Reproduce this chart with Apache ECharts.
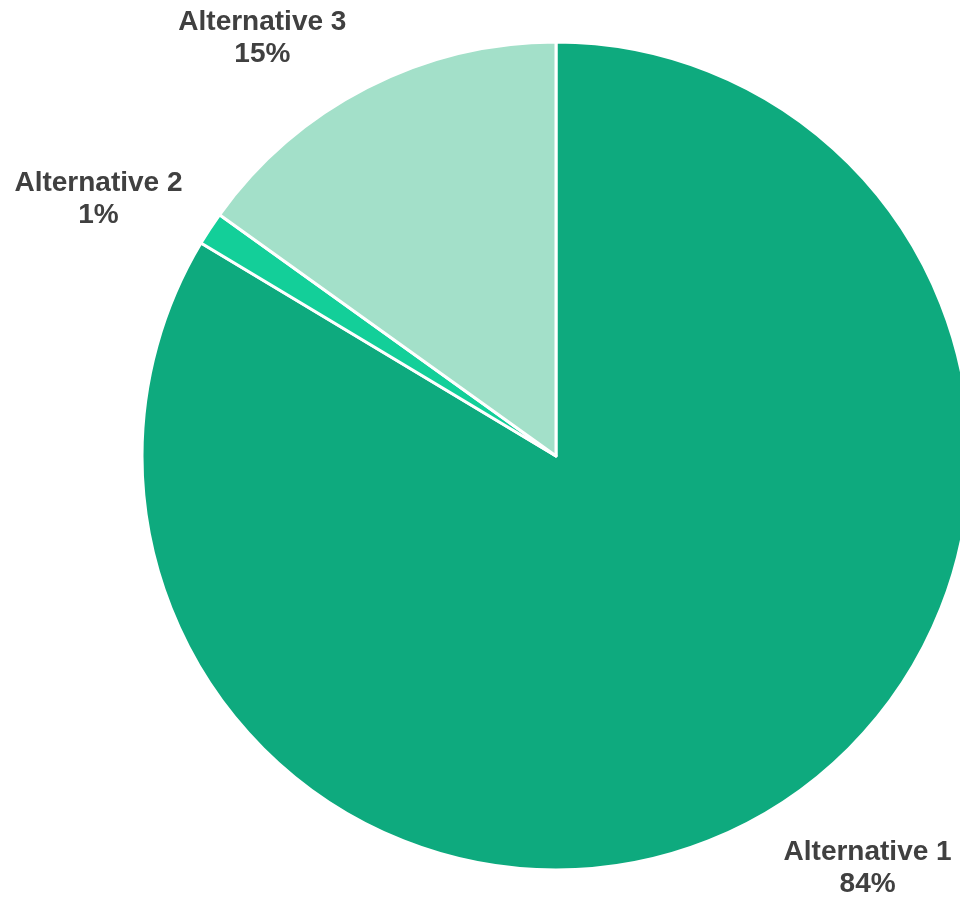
<!DOCTYPE html>
<html>
<head>
<meta charset="utf-8">
<script src="https://cdn.jsdelivr.net/npm/echarts@6/dist/echarts.min.js"></script>
<style>
  html, body { margin: 0; padding: 0; background: #ffffff; }
  #chart { width: 960px; height: 900px; }
</style>
</head>
<body>
<div id="chart"></div>
<script>
// Data
const categories = ['Alternative 1', 'Alternative 2', 'Alternative 3'];
const values = [83.6, 1.3, 15.1];

// Styling
const sliceColors = ['#0eaa7e', '#13cf99', '#a3e0c9'];
const labelNudgeX = [-10, 26, 11];
const labelNudgeY = [2, 2, 2];

const chart = echarts.init(document.getElementById('chart'), null, { renderer: 'canvas' });

const seriesData = categories.map((name, i) => ({
  name: name,
  value: values[i],
  itemStyle: { color: sliceColors[i] }
}));

const textFont = {
  fontFamily: '"Liberation Sans", Arial, sans-serif',
  fontWeight: 'bold',
  fontSize: 28,
  color: '#404040',
  lineHeight: 32,
  align: 'center'
};

chart.setOption({
  animation: false,
  backgroundColor: '#ffffff',
  series: [{
    type: 'pie',
    center: [556, 456],
    radius: 414,
    startAngle: 90,
    clockwise: true,
    percentPrecision: 0,
    avoidLabelOverlap: false,
    itemStyle: { borderColor: '#ffffff', borderWidth: 3 },
    label: {
      show: true,
      position: 'outside',
      alignTo: 'none',
      distanceToLabelLine: 5,
      formatter: '{n|{b}}\n{p|{d}%}',
      fontFamily: textFont.fontFamily,
      fontWeight: 'bold',
      fontSize: 28,
      color: '#404040',
      lineHeight: 32,
      rich: {
        n: textFont,
        p: textFont
      }
    },
    labelLine: { show: false, length: 58, length2: 0 },
    labelLayout: function (p) {
      return { dx: labelNudgeX[p.dataIndex], dy: labelNudgeY[p.dataIndex] };
    },
    emphasis: { disabled: true },
    data: seriesData
  }]
});
</script>
</body>
</html>
